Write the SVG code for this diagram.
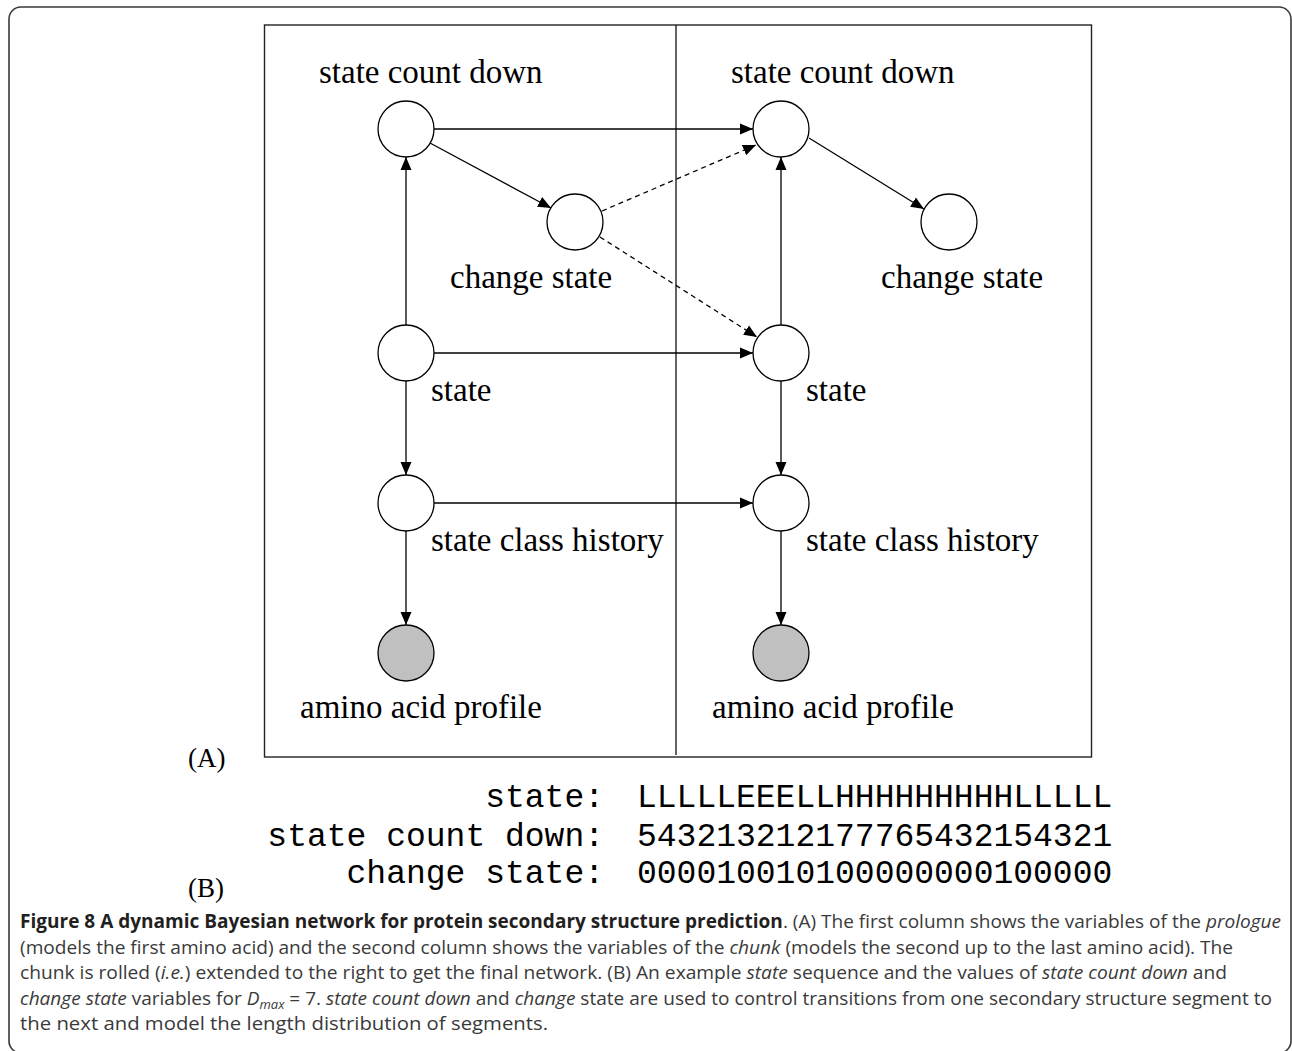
<svg xmlns="http://www.w3.org/2000/svg" width="1292" height="1051" viewBox="0 0 1292 1051">
<style>
.frame{fill:none;stroke:#3a3a3a;stroke-width:1.6}
.box{fill:none;stroke:#222;stroke-width:1.4}
.node{fill:#fff;stroke:#000;stroke-width:1.3}
.obs{fill:#c0c0c0;stroke:#000;stroke-width:1.3}
.lbl{font-family:"Liberation Serif","Times New Roman",serif;font-size:33px;fill:#000}
.tag{font-family:"Liberation Serif","Times New Roman",serif;font-size:27px;fill:#000}
.mono{font-family:"Liberation Mono","Courier New",monospace;font-size:33px;fill:#000}
.edge{fill:none;stroke:#000;stroke-width:1.3}
.dash{stroke-dasharray:5,4}
.cap{font-family:"Open Sans","Noto Sans",sans-serif;font-size:19px;fill:#3a3a3a}
.b{font-weight:bold;fill:#231f20}
.i{font-style:italic}
</style>
<defs>
<marker id="ah" markerUnits="userSpaceOnUse" markerWidth="13" markerHeight="13" viewBox="0 0 13 13" refX="13" refY="6.5" orient="auto">
<path d="M0,1 L13,6.5 L0,12 Z" fill="#000"/>
</marker>
</defs>
<rect class="frame" x="9" y="7" width="1282" height="1046" rx="12" ry="12"/>
<rect class="box" x="264.5" y="25" width="827" height="732"/>
<line class="box" x1="676" y1="25" x2="676" y2="755"/>
<g id="connectors">
<line class="edge" x1="434" y1="129" x2="753" y2="129" marker-end="url(#ah)"/>
<line class="edge" x1="430" y1="143" x2="551" y2="208" marker-end="url(#ah)"/>
<line class="edge dash" x1="602" y1="211" x2="756" y2="145" marker-end="url(#ah)"/>
<line class="edge dash" x1="600" y1="237" x2="757" y2="337" marker-end="url(#ah)"/>
<line class="edge" x1="406" y1="325" x2="406" y2="157" marker-end="url(#ah)"/>
<line class="edge" x1="434" y1="353" x2="753" y2="353" marker-end="url(#ah)"/>
<line class="edge" x1="406" y1="381" x2="406" y2="475" marker-end="url(#ah)"/>
<line class="edge" x1="434" y1="503" x2="753" y2="503" marker-end="url(#ah)"/>
<line class="edge" x1="406" y1="531" x2="406" y2="625" marker-end="url(#ah)"/>
<line class="edge" x1="781" y1="325" x2="781" y2="157" marker-end="url(#ah)"/>
<line class="edge" x1="809" y1="138" x2="924" y2="209" marker-end="url(#ah)"/>
<line class="edge" x1="781" y1="381" x2="781" y2="475" marker-end="url(#ah)"/>
<line class="edge" x1="781" y1="531" x2="781" y2="625" marker-end="url(#ah)"/>
</g>
<g id="scd1"><circle class="node" cx="406" cy="129" r="28"/><text class="lbl" x="319" y="83">state count down</text></g>
<g id="cs1"><circle class="node" cx="575" cy="222" r="28"/><text class="lbl" x="450" y="288">change state</text></g>
<g id="st1"><circle class="node" cx="406" cy="353" r="28"/><text class="lbl" x="431" y="401">state</text></g>
<g id="sch1"><circle class="node" cx="406" cy="503" r="28"/><text class="lbl" x="431" y="551">state class history</text></g>
<g id="aap1"><circle class="obs" cx="406" cy="653" r="28"/><text class="lbl" x="300" y="718">amino acid profile</text></g>
<g id="scd2"><circle class="node" cx="781" cy="129" r="28"/><text class="lbl" x="731" y="83">state count down</text></g>
<g id="cs2"><circle class="node" cx="949" cy="222" r="28"/><text class="lbl" x="881" y="288">change state</text></g>
<g id="st2"><circle class="node" cx="781" cy="353" r="28"/><text class="lbl" x="806" y="401">state</text></g>
<g id="sch2"><circle class="node" cx="781" cy="503" r="28"/><text class="lbl" x="806" y="551">state class history</text></g>
<g id="aap2"><circle class="obs" cx="781" cy="653" r="28"/><text class="lbl" x="712" y="718">amino acid profile</text></g>
<text class="tag" x="188" y="767">(A)</text>
<text class="tag" x="188" y="897">(B)</text>
<g id="sequence">
<text class="mono" x="604" y="807" text-anchor="end">state:</text>
<text class="mono" x="637" y="807">LLLLLEEELLHHHHHHHHHLLLLL</text>
<text class="mono" x="604" y="846" text-anchor="end">state count down:</text>
<text class="mono" x="637" y="846">543213212177765432154321</text>
<text class="mono" x="604" y="883" text-anchor="end">change state:</text>
<text class="mono" x="637" y="883">000010010100000000100000</text>
</g>
<g id="caption">
<text class="cap" x="20" y="928" textLength="1261" lengthAdjust="spacingAndGlyphs"><tspan class="b">Figure 8 A dynamic Bayesian network for protein secondary structure prediction</tspan>. (A) The first column shows the variables of the <tspan class="i">prologue</tspan></text>
<text class="cap" x="20" y="953.5" textLength="1213" lengthAdjust="spacingAndGlyphs">(models the first amino acid) and the second column shows the variables of the <tspan class="i">chunk</tspan> (models the second up to the last amino acid). The</text>
<text class="cap" x="20" y="979" textLength="1207" lengthAdjust="spacingAndGlyphs">chunk is rolled (<tspan class="i">i.e.</tspan>) extended to the right to get the final network. (B) An example <tspan class="i">state</tspan> sequence and the values of <tspan class="i">state count down</tspan> and</text>
<text class="cap" x="20" y="1004.5" textLength="1252" lengthAdjust="spacingAndGlyphs"><tspan class="i">change state</tspan> variables for <tspan class="i">D</tspan><tspan class="i" font-size="13" dy="4">max</tspan><tspan dy="-4"> = 7. </tspan><tspan class="i">state count down</tspan> and <tspan class="i">change</tspan> state are used to control transitions from one secondary structure segment to</text>
<text class="cap" x="20" y="1030" textLength="528" lengthAdjust="spacingAndGlyphs">the next and model the length distribution of segments.</text>
</g>
</svg>
